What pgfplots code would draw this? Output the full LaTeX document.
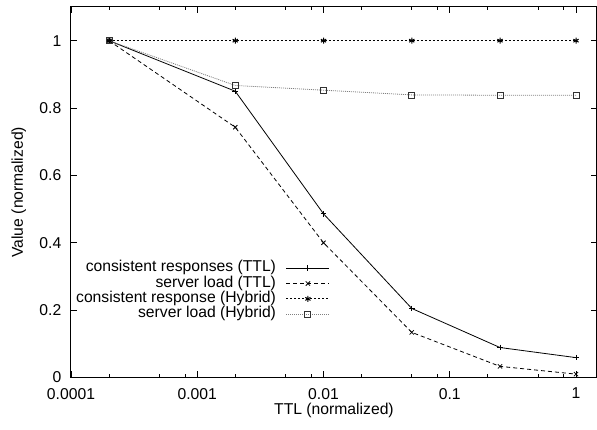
\documentclass[border=0pt]{standalone}
\usepackage{fontspec}
\setmainfont{Liberation Sans}
\usepackage{pgfplots}
\pgfplotsset{compat=1.18}
\begin{document}
\begin{tikzpicture}[font=\fontsize{15.7}{18}\selectfont]
\path[use as bounding box] (-71pt,-52.5pt) rectangle (526pt,377.5pt);
\begin{axis}[
  scale only axis, width=526pt, height=370.5pt,
  xmode=log, log basis x=10,
  xmin=1e-4, xmax=1.466, ymin=0, ymax=1.1,
  /pgf/number format/assume math mode=true,
  xtick={1e-4,1e-3,1e-2,1e-1,1},
  xticklabels={0.0001,0.001,0.01,0.1,1},
  minor xtick={2e-4,5e-4,8e-4,2e-3,5e-3,8e-3,2e-2,5e-2,8e-2,0.2,0.5,0.8},
  ytick={0,0.2,0.4,0.6,0.8,1},
  yticklabels={0,0.2,0.4,0.6,0.8,1},
  tick align=inside, major tick length=6pt, minor tick length=3pt,
  axis line style={line width=1pt},
  every tick/.style={black, line width=0.8pt},
  xticklabel style={inner sep=0pt, anchor=north, yshift=-10.5pt},
  yticklabel style={inner sep=0pt, anchor=east, xshift=-9.5pt},
  xlabel={TTL (normalized)}, ylabel={Value (normalized)},
  xlabel style={at={(axis description cs:0.5,-0.1012)}, anchor=base, inner sep=0pt},
  ylabel style={at={(axis description cs:-0.09125,0.5)}, anchor=base, inner sep=0pt},
  legend plot pos=right, legend cell align=right,
  legend style={at={(axis description cs:0.4924,0.316)}, anchor=north east,
    draw=none, fill=none, inner sep=0pt, row sep=0pt, column sep=10pt,
    nodes={inner sep=0pt, text height=11.3pt, text depth=4pt}},
  legend image code/.code={\draw[mark repeat=2,mark phase=2,#1] plot coordinates {(0pt,0pt) (21.5pt,0pt) (43pt,0pt)};},
]
\addplot[black, line width=0.8pt, mark=+, mark size=2.8pt] coordinates {(0.0002,1) (0.002,0.85) (0.01,0.486) (0.05,0.205) (0.25,0.089) (1,0.059)};
\addlegendentry{consistent responses (TTL)}
\addplot[black, line width=0.8pt, dash pattern=on 4pt off 3pt, mark=x, mark size=3pt, mark options={solid}] coordinates {(0.0002,1) (0.002,0.743) (0.01,0.40) (0.05,0.134) (0.25,0.033) (1,0.010)};
\addlegendentry{server load (TTL)}
\addplot[black, line width=0.8pt, dash pattern=on 2pt off 2pt, mark=asterisk, mark size=3pt, mark options={solid, line width=1pt}] coordinates {(0.0002,1) (0.002,1) (0.01,1) (0.05,1) (0.25,1) (1,1)};
\addlegendentry{consistent response (Hybrid)}
\addplot[gray, line width=0.8pt, dash pattern=on 1pt off 1pt, mark=square, mark size=3pt, mark options={solid, black!80}] coordinates {(0.0002,1) (0.002,0.867) (0.01,0.853) (0.05,0.839) (0.25,0.838) (1,0.838)};
\addlegendentry{server load (Hybrid)}
\end{axis}
\end{tikzpicture}
\end{document}
